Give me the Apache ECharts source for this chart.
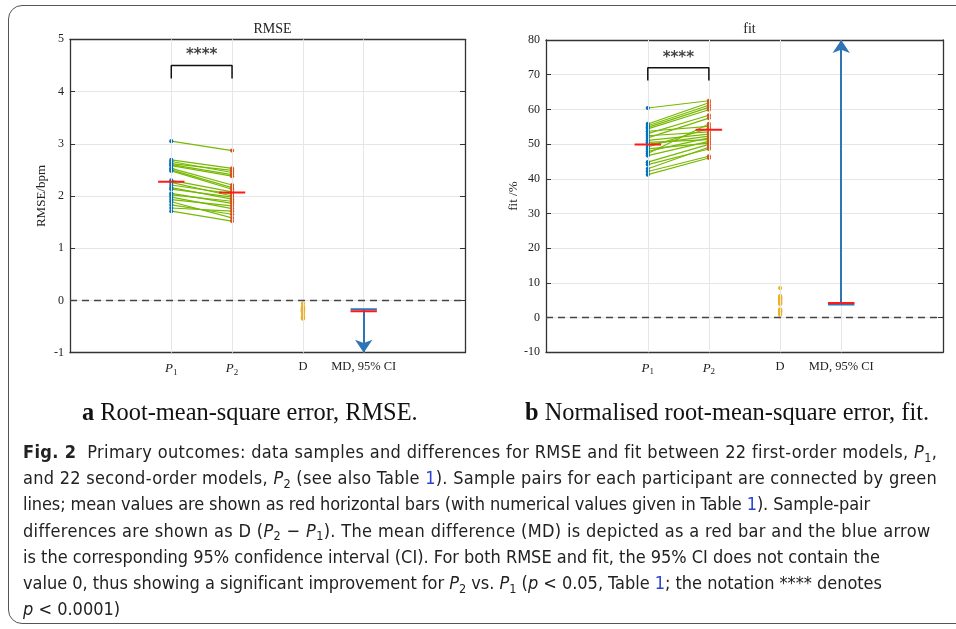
<!DOCTYPE html>
<html><head><meta charset="utf-8">
<script src="https://cdn.jsdelivr.net/npm/echarts@6/dist/echarts.min.js"></script>
<style>
html,body{margin:0;padding:0;background:#fff;}
#wrap{position:relative;width:956px;height:629px;overflow:hidden;background:#fff;}
#frame{position:absolute;left:8px;top:5px;width:1000px;height:619px;border:1.5px solid #555;border-radius:14px;box-sizing:border-box;}
#chart{position:absolute;left:0;top:0;width:956px;height:629px;}
.sub{position:absolute;top:398px;font-family:'Liberation Serif',serif;font-size:24.4px;color:#111;white-space:nowrap;}
#cap{position:absolute;left:23px;top:439px;font-family:'DejaVu Sans Condensed','Liberation Sans Narrow',sans-serif;font-size:18px;line-height:26.2px;color:#222;white-space:nowrap;}
#cap > div{display:block;width:max-content;}
#cap .s{font-size:70%;position:relative;top:0.3em;line-height:0;}
#cap .l{color:#2a3fd6;}
</style></head>
<body><div id="wrap">
<div id="frame"></div>
<div id="chart"></div>
<div class="sub" style="left:82px"><b>a</b> Root-mean-square error, RMSE.</div>
<div class="sub" style="left:525px"><b>b</b> Normalised root-mean-square error, fit.</div>
<div id="cap">
<div data-end="937"><b>Fig. 2</b>&nbsp; Primary outcomes: data samples and differences for RMSE and fit between 22 first-order models, <i>P</i><span class="s">1</span>,</div>
<div data-end="937">and 22 second-order models, <i>P</i><span class="s">2</span> (see also Table <span class="l">1</span>). Sample pairs for each participant are connected by green</div>
<div data-end="870">lines; mean values are shown as red horizontal bars (with numerical values given in Table <span class="l">1</span>). Sample-pair</div>
<div data-end="930">differences are shown as D (<i>P</i><span class="s">2</span> − <i>P</i><span class="s">1</span>). The mean difference (MD) is depicted as a red bar and the blue arrow</div>
<div data-end="880">is the corresponding 95% confidence interval (CI). For both RMSE and fit, the 95% CI does not contain the</div>
<div data-end="882">value 0, thus showing a significant improvement for <i>P</i><span class="s">2</span> vs. <i>P</i><span class="s">1</span> (<i>p</i> &lt; 0.05, Table <span class="l">1</span>; the notation **** denotes</div>
<div><i>p</i> &lt; 0.0001)</div>
</div>
</div>
<script>
// ---- data ----
const categories = ['P1', 'P2', 'D', 'MD, 95% CI'];
const rmseP1 = [3.05, 2.69, 2.66, 2.62, 2.60, 2.58, 2.53, 2.50, 2.48, 2.30, 2.26, 2.21, 2.16, 2.13, 2.05, 2.02, 1.98, 1.93, 1.89, 1.83, 1.77, 1.71];
const rmseP2 = [2.87, 2.53, 2.45, 2.49, 2.41, 2.38, 2.21, 2.16, 2.13, 2.08, 2.00, 2.04, 1.94, 1.98, 1.86, 1.90, 1.76, 1.81, 1.58, 1.65, 1.71, 1.52];
const rmseCIBound = -0.17;
const fitP1 = [60.4, 55.8, 55.3, 54.8, 54.4, 53.7, 53.0, 52.4, 51.8, 51.1, 50.5, 49.9, 49.2, 48.6, 47.9, 47.3, 46.7, 44.8, 44.1, 42.9, 42.1, 41.2];
const fitP2 = [62.5, 61.9, 61.2, 60.6, 59.9, 55.1, 58.3, 53.5, 57.5, 52.9, 51.3, 52.3, 54.5, 50.3, 51.8, 55.8, 50.8, 49.9, 48.6, 49.1, 46.5, 46.0];
const fitCIBound = 3.75;
const rmseTicks = [-1, 0, 1, 2, 3, 4, 5];
const fitTicks = [-10, 0, 10, 20, 30, 40, 50, 60, 70, 80];
const sigLabel = '****';

// ---- layout ----
const catX = [1, 1.6, 2.3, 2.9];
const halfW = 0.13;
const C = {blue:'#0072BD', orange:'#D95319', yellow:'#EDB120', green:'#77B900', red:'#ff1a1a', arrow:'#2f74b5', axis:'#333', grid:'#e6e6e6'};
const serif = "'Liberation Serif', 'DejaVu Serif', serif";
const mean = a => a.reduce((s, v) => s + v, 0) / a.length;

const grids = [
  {left:70, top:39.3, width:395, height:313.4},
  {left:546, top:40, width:397, height:312.3}
];
const panels = [
  {p1: rmseP1, p2: rmseP2, ci: rmseCIBound, ticks: rmseTicks, name:'RMSE/bpm', title:'RMSE', nameGap:22, sig:[4.25, 4.5, 4.70]},
  {p1: fitP1, p2: fitP2, ci: fitCIBound, ticks: fitTicks, name:'fit /%', title:'fit', nameGap:24, sig:[68.3, 72.0, 74.8]}
];

const labelFmt = v => {
  const i = catX.indexOf(v);
  if (i < 0) return '';
  const c = categories[i];
  if (c === 'P1') return '{it|P}{sb|1}';
  if (c === 'P2') return '{it|P}{sb|2}';
  return '{n|' + c + '}';
};
const rich = {
  it:{fontFamily:serif, fontStyle:'italic', fontSize:13, color:'#222'},
  sb:{fontFamily:serif, fontSize:9, color:'#222', padding:[7,0,0,0]},
  n:{fontFamily:serif, fontSize:12.5, color:'#222'}
};

const xAxis = [], yAxis = [], series = [], title = [];
panels.forEach((pn, g) => {
  const ymin = pn.ticks[0], ymax = pn.ticks[pn.ticks.length - 1];
  const step = pn.ticks[1] - pn.ticks[0];
  const axL = {show:true, onZero:false, lineStyle:{color:C.axis, width:1.3}};
  xAxis.push({type:'value', gridIndex:g, min:0, max:3.9, position:'bottom',
    axisLine:axL, axisTick:{show:true, inside:true, length:5, customValues:catX, lineStyle:{color:C.axis}},
    axisLabel:{show:true, customValues:catX, formatter:labelFmt, rich:rich, margin:8},
    splitLine:{show:false}});
  xAxis.push({type:'value', gridIndex:g, min:0, max:3.9, position:'top',
    axisLine:axL, axisTick:{show:true, inside:true, length:5, customValues:catX, lineStyle:{color:C.axis}},
    axisLabel:{show:false}, splitLine:{show:false}});
  yAxis.push({type:'value', gridIndex:g, min:ymin, max:ymax, interval:step, position:'left',
    axisLine:axL, axisTick:{show:true, inside:true, length:5, lineStyle:{color:C.axis}},
    axisLabel:{fontFamily:serif, fontSize:12, color:'#222', margin:6},
    splitLine:{show:true, lineStyle:{color:C.grid, width:1}},
    name:pn.name, nameLocation:'middle', nameGap:pn.nameGap, nameRotate:90,
    nameTextStyle:{fontFamily:serif, fontSize:13, color:'#222'}});
  yAxis.push({type:'value', gridIndex:g, min:ymin, max:ymax, interval:step, position:'right',
    axisLine:axL, axisTick:{show:true, inside:true, length:5, lineStyle:{color:C.axis}},
    axisLabel:{show:false}, splitLine:{show:false}});
  const xi = g * 2, yi = g * 2;
  title.push({text:pn.title, left:grids[g].left + grids[g].width / 2, top:17, textAlign:'center',
    textStyle:{fontFamily:serif, fontSize:14, fontWeight:'normal', color:'#222'}});

  // vertical grid lines + zero line
  series.push({type:'line', xAxisIndex:xi, yAxisIndex:yi, data:[], silent:true, z:1,
    markLine:{silent:true, symbol:'none', label:{show:false}, animation:false,
      data:catX.map(x => ({xAxis:x, lineStyle:{color:C.grid, width:1, type:'solid'}}))
        .concat([{yAxis:0, lineStyle:{color:'#444', width:1.3, type:[7,5]}}])}});

  // pair lines
  series.push({type:'lines', coordinateSystem:'cartesian2d', xAxisIndex:xi, yAxisIndex:yi, z:3,
    lineStyle:{color:C.green, width:1.2, opacity:1},
    data:pn.p1.map((v, i) => ({coords:[[catX[0], v], [catX[1], pn.p2[i]]]}))});
  // points
  const pt = {symbolSize:4.2, z:4};
  series.push(Object.assign({type:'scatter', xAxisIndex:xi, yAxisIndex:yi,
    itemStyle:{color:C.blue, opacity:1}, data:pn.p1.map(v => [catX[0], v])}, pt));
  series.push(Object.assign({type:'scatter', xAxisIndex:xi, yAxisIndex:yi,
    itemStyle:{color:C.orange, opacity:1}, data:pn.p2.map(v => [catX[1], v])}, pt));
  const D = pn.p1.map((v, i) => pn.p2[i] - v);
  series.push(Object.assign({type:'scatter', xAxisIndex:xi, yAxisIndex:yi,
    itemStyle:{color:C.yellow, opacity:1}, data:D.map(v => [catX[2], v])}, pt));
  // mean bars
  const m1 = mean(pn.p1), m2 = mean(pn.p2), md = mean(D);
  const bar = (x, y, color, z) => ({type:'line', xAxisIndex:xi, yAxisIndex:yi, z:z, showSymbol:false, silent:true,
    lineStyle:{color:color, width:2}, data:[[x - halfW, y], [x + halfW, y]]});
  series.push(bar(catX[0], m1, C.red, 5));
  series.push(bar(catX[1], m2, C.red, 5));
  // CI cap + arrow
  const end = md < 0 ? ymin : ymax;
  series.push(bar(catX[3], pn.ci, C.arrow, 5));
  series.push(bar(catX[3], md, C.red, 6));
  series.push({type:'line', xAxisIndex:xi, yAxisIndex:yi, data:[], z:5, silent:true,
    markLine:{silent:true, animation:false, symbol:['none', 'arrow'], symbolSize:13, label:{show:false},
      lineStyle:{color:C.arrow, width:2, type:'solid'},
      data:[[{coord:[catX[3], pn.ci]}, {coord:[catX[3], end]}]]}});
  // significance bracket
  series.push({type:'line', xAxisIndex:xi, yAxisIndex:yi, z:5, showSymbol:false, silent:true,
    lineStyle:{color:'#111', width:1.5},
    data:[[catX[0], pn.sig[0]], [catX[0], pn.sig[1]], [catX[1], pn.sig[1]], [catX[1], pn.sig[0]]]});
  series.push({type:'scatter', xAxisIndex:xi, yAxisIndex:yi, z:5, symbolSize:0, silent:true,
    label:{show:true, position:'inside', formatter:sigLabel, fontFamily:'DejaVu Sans', fontSize:15, fontWeight:'bold', color:'#111'},
    data:[[(catX[0] + catX[1]) / 2, pn.sig[2]]]});
});

const chart = echarts.init(document.getElementById('chart'), null, {renderer:'canvas'});
chart.setOption({animation:false, backgroundColor:'transparent', title:title, grid:grids, xAxis:xAxis, yAxis:yAxis, series:series});

// fit caption lines to the reference's line lengths
const capLeft = 23;
document.querySelectorAll('#cap > div[data-end]').forEach(d => {
  const target = +d.dataset.end - capLeft;
  const w = d.getBoundingClientRect().width;
  const n = d.textContent.length;
  if (n > 1) d.style.letterSpacing = ((target - w) / n) + 'px';
});
</script>
</body></html>
